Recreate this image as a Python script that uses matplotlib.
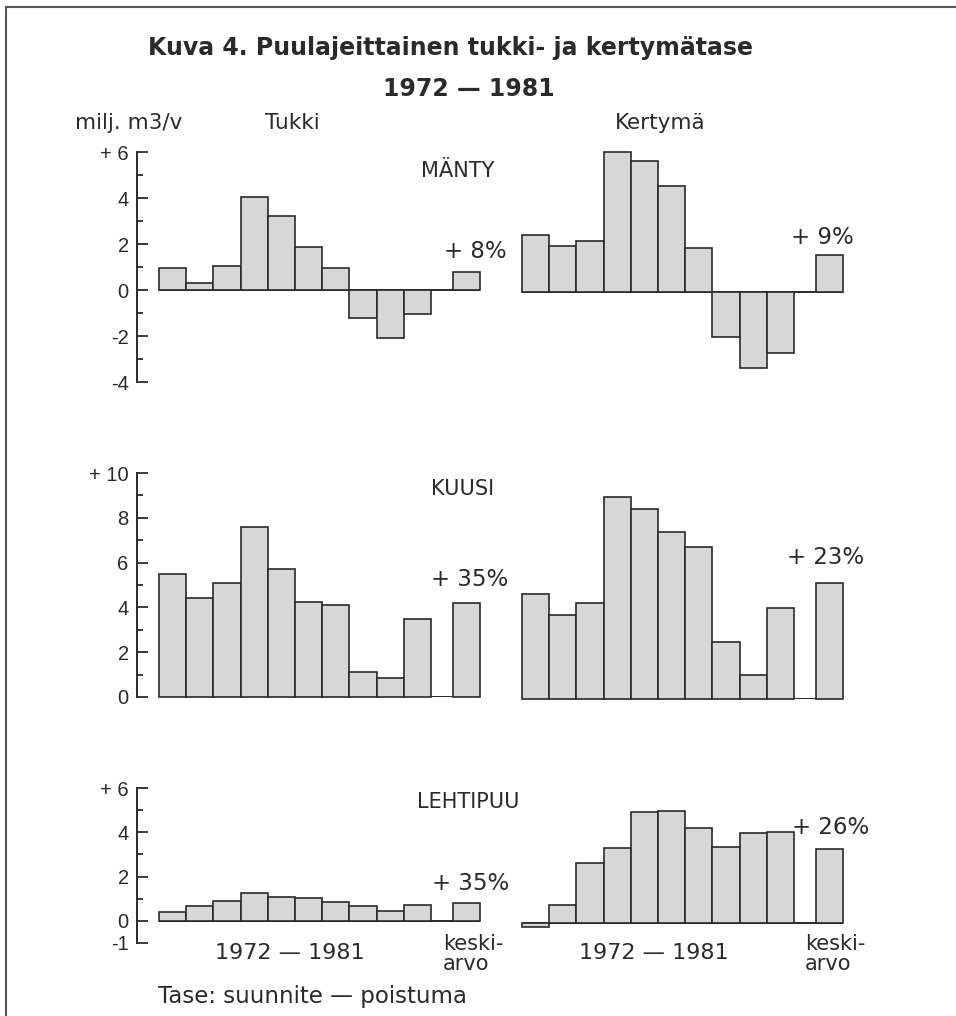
import matplotlib
matplotlib.use("Agg")
import matplotlib.pyplot as plt
from matplotlib.lines import Line2D
import numpy as np

# ---- data (milj. m3/v) ----
years = np.arange(1972, 1982)
tukki_manty = [0.95, 0.3, 1.05, 4.05, 3.2, 1.85, 0.95, -1.2, -2.1, -1.05]
tukki_manty_mean = 0.8
kertyma_manty = [2.5, 2.0, 2.2, 6.1, 5.7, 4.6, 1.9, -1.95, -3.3, -2.65]
kertyma_manty_mean = 1.6

tukki_kuusi = [5.5, 4.4, 5.1, 7.6, 5.7, 4.25, 4.1, 1.1, 0.85, 3.5]
tukki_kuusi_mean = 4.2
kertyma_kuusi = [4.7, 3.75, 4.3, 9.0, 8.5, 7.45, 6.8, 2.55, 1.05, 4.05]
kertyma_kuusi_mean = 5.2

tukki_lehti = [0.4, 0.65, 0.9, 1.25, 1.07, 1.05, 0.85, 0.65, 0.43, 0.7]
tukki_lehti_mean = 0.8
kertyma_lehti = [-0.18, 0.8, 2.7, 3.4, 5.0, 5.07, 4.27, 3.43, 4.04, 4.1]
kertyma_lehti_mean = 3.33

pct_labels = [["+ 8%", "+ 9%"], ["+ 35%", "+ 23%"], ["+ 35%", "+ 26%"]]
species = ["MÄNTY", "KUUSI", "LEHTIPUU"]

W, H = 956, 1016
INK = "#2a2a2a"
FILL = "#d7d7d7"
plt.rcParams["font.family"] = ["DejaVu Sans"]
plt.rcParams["text.color"] = INK

fig = plt.figure(figsize=(W / 100, H / 100), dpi=100)


def fx(x):
    return x / W


def fy(y):
    return 1 - y / H


def add_panel(left_px, top_px, bottom_px, ylim):
    ax = fig.add_axes([fx(left_px), fy(bottom_px), 363 / W, (bottom_px - top_px) / H])
    ax.set_xlim(-1.31, 12.04)
    ax.set_ylim(*ylim)
    ax.patch.set_alpha(0)
    for s in ["top", "right", "bottom"]:
        ax.spines[s].set_visible(False)
    ax.set_xticks([])
    return ax


def draw_bars(ax, vals, mean):
    pos = np.arange(len(vals))
    mean_pos = len(vals) + 0.8
    ax.hlines(0, pos[0] - 0.5, mean_pos + 0.5, color=INK, lw=1.4, zorder=1)
    ax.bar(pos, vals, width=1.0, color=FILL, edgecolor=INK, linewidth=1.2,
           zorder=2, clip_on=False)
    ax.bar([mean_pos], [mean], width=1.0, color=FILL, edgecolor=INK, linewidth=1.2,
           zorder=2, clip_on=False)


def style_yaxis(ax, major, labels, minor):
    ax.spines["left"].set_color(INK)
    ax.spines["left"].set_linewidth(1.4)
    ax.set_yticks(major)
    ax.set_yticklabels(labels, fontsize=14.5, family="Liberation Sans")
    ax.set_yticks(minor, minor=True)
    ax.tick_params(axis="y", which="major", direction="in", length=8, width=1.3,
                   color=INK, labelcolor=INK, pad=6)
    ax.tick_params(axis="y", which="minor", direction="in", length=4, width=1.3, color=INK)


# rows: (top_px, bottom_px, ylim)
rows = [
    (152, 382, (-4, 6)),
    (473, 697, (0, 10)),
    (788, 943, (-1, 6)),
]
tukki = [(tukki_manty, tukki_manty_mean), (tukki_kuusi, tukki_kuusi_mean),
         (tukki_lehti, tukki_lehti_mean)]
kertyma = [(kertyma_manty, kertyma_manty_mean), (kertyma_kuusi, kertyma_kuusi_mean),
           (kertyma_lehti, kertyma_lehti_mean)]
yaxes = [
    ([6, 4, 2, 0, -2, -4], ["+ 6", "4", "2", "0", "-2", "-4"], [5, 3, 1, -1, -3]),
    ([10, 8, 6, 4, 2, 0], ["+ 10", "8", "6", "4", "2", "0"], [9, 7, 5, 3, 1]),
    ([6, 4, 2, 0, -1], ["+ 6", "4", "2", "0", "-1"], [5, 3, 1]),
]

for i, (top, bot, ylim) in enumerate(rows):
    axl = add_panel(137, top, bot, ylim)
    draw_bars(axl, *tukki[i])
    style_yaxis(axl, *yaxes[i])

    axr = add_panel(500, top + 2, bot + 2, ylim)
    axr.spines["left"].set_visible(False)
    axr.set_yticks([])
    draw_bars(axr, *kertyma[i])

# ---- texts ----
fig.text(fx(148), fy(48), "Kuva 4. Puulajeittainen tukki- ja kertymätase",
         fontsize=17, fontweight="bold", ha="left", va="center")
fig.text(fx(383), fy(89), "1972 — 1981", fontsize=17, fontweight="bold",
         ha="left", va="center")
fig.text(fx(75), fy(123), "milj. m3/v", fontsize=15.5, ha="left", va="center")
fig.text(fx(292), fy(123), "Tukki", fontsize=15.5, ha="center", va="center")
fig.text(fx(660), fy(123), "Kertymä", fontsize=15.5, ha="center", va="center")

species_pos = [(458, 171), (463, 489), (468, 802)]
left_pct_pos = [(475, 251), (470, 579), (471, 884)]
right_pct_pos = [(822, 237), (826, 558), (831, 827)]
for i in range(3):
    fig.text(fx(species_pos[i][0]), fy(species_pos[i][1]), species[i],
             fontsize=15, ha="center", va="center")
    fig.text(fx(left_pct_pos[i][0]), fy(left_pct_pos[i][1]), pct_labels[i][0],
             fontsize=16.5, ha="center", va="center")
    fig.text(fx(right_pct_pos[i][0]), fy(right_pct_pos[i][1]), pct_labels[i][1],
             fontsize=16.5, ha="center", va="center")

period = f"{years[0]} — {years[-1]}"
fig.text(fx(290), fy(953), period, fontsize=16, ha="center", va="center")
fig.text(fx(654), fy(953), period, fontsize=16, ha="center", va="center")
fig.text(fx(443), fy(954), "keski-\narvo", fontsize=15, ha="left", va="center",
         linespacing=1.0)
fig.text(fx(805), fy(954), "keski-\narvo", fontsize=15, ha="left", va="center",
         linespacing=1.0)
fig.text(fx(312), fy(996), "Tase: suunnite — poistuma", fontsize=16.5,
         ha="center", va="center")

# frame (top and left edge of the printed box)
fig.add_artist(Line2D([fx(6), 1], [fy(7), fy(7)], color="#555555", lw=1.5))
fig.add_artist(Line2D([fx(6), fx(6)], [fy(7), 0], color="#555555", lw=1.5))

fig.savefig("out.png", dpi=100)
